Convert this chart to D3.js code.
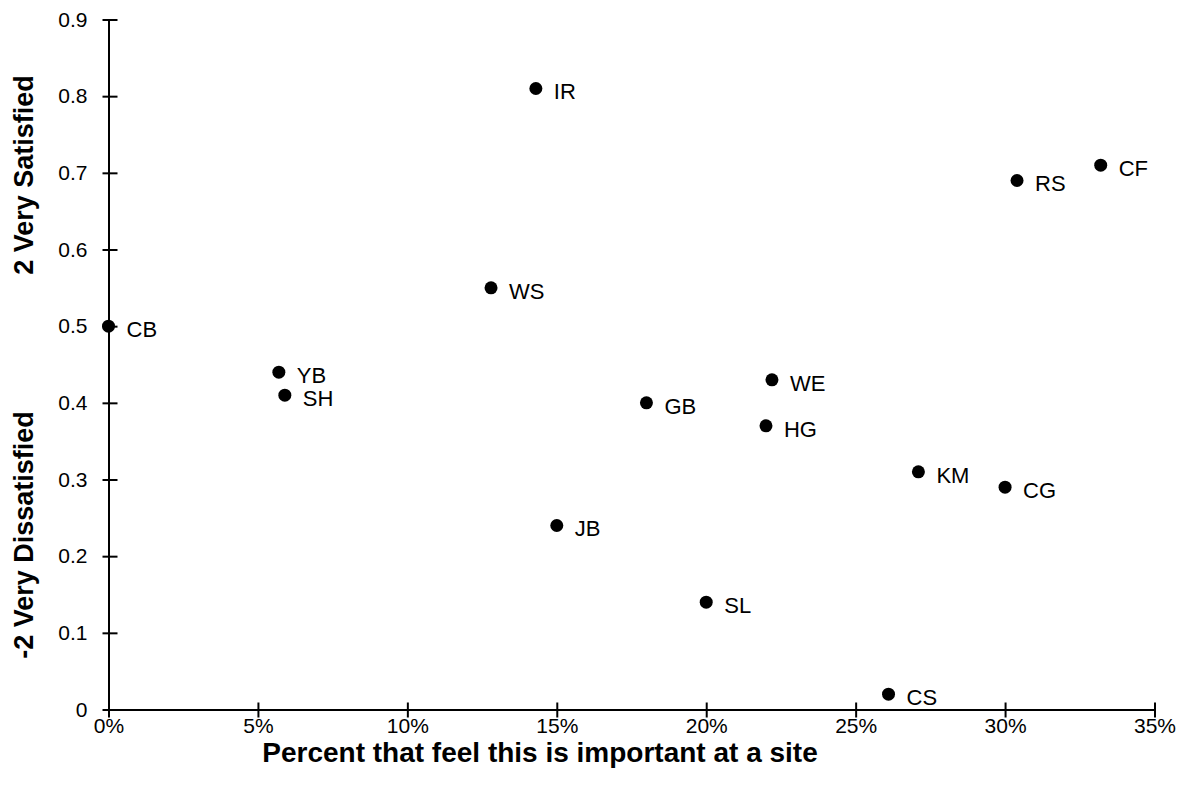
<!DOCTYPE html>
<html>
<head>
<meta charset="utf-8">
<script src="https://cdn.jsdelivr.net/npm/d3@7"></script>
<style>
  html, body { margin: 0; padding: 0; background: #fff; }
  svg { display: block; }
  text { font-family: "Liberation Sans", Arial, sans-serif; fill: #000; }
</style>
</head>
<body>
<svg id="chart" width="1184" height="795"></svg>
<script>
const labels = ["IR", "CF", "RS", "WS", "CB", "YB", "SH", "GB", "WE", "HG", "KM", "CG", "JB", "SL", "CS"];
const importance = [0.143, 0.332, 0.304, 0.128, 0.0, 0.057, 0.059, 0.18, 0.222, 0.22, 0.271, 0.30, 0.15, 0.20, 0.261];
const satisfaction = [0.81, 0.71, 0.69, 0.55, 0.50, 0.44, 0.41, 0.40, 0.43, 0.37, 0.31, 0.29, 0.24, 0.14, 0.02];
const xTicks = [0, 0.05, 0.10, 0.15, 0.20, 0.25, 0.30, 0.35];
const yTicks = [0, 0.1, 0.2, 0.3, 0.4, 0.5, 0.6, 0.7, 0.8, 0.9];
const xTitle = "Percent that feel this is important at a site";
const yTitleTop = "2 Very Satisfied";
const yTitleBottom = "-2 Very Dissatisfied";

const data = labels.map((l, i) => ({label: l, x: importance[i], y: satisfaction[i]}));

const svg = d3.select("#chart");
const x = d3.scaleLinear().domain([0, 0.35]).range([108.5, 1154.5]);
const y = d3.scaleLinear().domain([0, 0.9]).range([709.5, 19.5]);

// X axis
const xAxis = svg.append("g").attr("transform", `translate(0,${y(0)})`)
  .call(d3.axisBottom(x).tickValues(xTicks).tickFormat(d3.format(".0%")).tickSizeInner(0).tickSizeOuter(0).tickPadding(10));
xAxis.select(".domain").attr("stroke", "#000").attr("stroke-width", 2);
xAxis.selectAll(".tick line").remove();
xAxis.selectAll(".tick").append("line").attr("y1", -7).attr("y2", 8).attr("stroke", "#000").attr("stroke-width", 2);
xAxis.selectAll(".tick text").attr("font-size", 21).attr("dy", "0.71em").attr("y", 9);

// Y axis
const yAxis = svg.append("g").attr("transform", `translate(${x(0)},0)`)
  .call(d3.axisLeft(y).tickValues(yTicks).tickFormat(d => d === 0 ? "0" : d3.format(".1f")(d)).tickSizeInner(0).tickSizeOuter(0).tickPadding(21));
yAxis.select(".domain").attr("stroke", "#000").attr("stroke-width", 2);
yAxis.selectAll(".tick line").remove();
yAxis.selectAll(".tick").append("line").attr("x1", -6).attr("x2", 9).attr("stroke", "#000").attr("stroke-width", 2);
yAxis.selectAll(".tick text").attr("font-size", 21);

// Points
svg.append("g").selectAll("circle").data(data).join("circle")
  .attr("cx", d => x(d.x)).attr("cy", d => y(d.y)).attr("r", 6.5).attr("fill", "#000");

svg.append("g").selectAll("text").data(data).join("text")
  .attr("x", d => x(d.x) + 18).attr("y", d => y(d.y) + 3)
  .attr("dy", "0.35em").attr("font-size", 22).text(d => d.label);

// Titles
svg.append("text").attr("x", 540).attr("y", 762).attr("text-anchor", "middle")
  .attr("font-size", 28).attr("font-weight", "bold").text(xTitle);
svg.append("text").attr("transform", "translate(33,175) rotate(-90)").attr("text-anchor", "middle")
  .attr("font-size", 27).attr("font-weight", "bold").text(yTitleTop);
svg.append("text").attr("transform", "translate(33,535) rotate(-90)").attr("text-anchor", "middle")
  .attr("font-size", 27).attr("font-weight", "bold").text(yTitleBottom);
</script>
</body>
</html>
